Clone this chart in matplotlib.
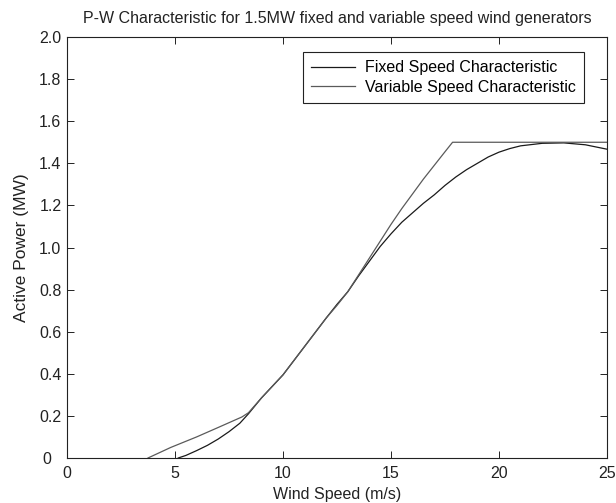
import matplotlib
matplotlib.use('Agg')
import matplotlib.pyplot as plt
from matplotlib.transforms import ScaledTranslation

# Variable speed (pitch regulated, flat at rated power)
var_ws = [3.75, 4.8, 6.0, 7.0, 8.1, 8.4, 9.0, 10.0, 11.0, 12.0, 12.5, 13.0,
          13.5, 14.0, 14.5, 15.0, 15.5, 16.0, 16.5, 17.0, 17.5, 17.85, 25.0]
var_p = [0.0, 0.05, 0.10, 0.145, 0.195, 0.215, 0.285, 0.395, 0.53, 0.665,
         0.725, 0.79, 0.87, 0.95, 1.03, 1.11, 1.185, 1.255, 1.325, 1.39,
         1.455, 1.50, 1.50]

# Fixed speed (stall regulated)
fix_ws = [5.15, 5.5, 6.0, 6.5, 7.0, 7.5, 8.0, 8.4, 9.0, 10.0, 11.0, 12.0,
          12.5, 13.0, 13.5, 14.0, 14.5, 15.0, 15.5, 16.0, 16.5, 17.0, 17.5,
          18.0, 18.5, 19.0, 19.5, 20.0, 20.5, 21.0, 22.0, 23.0, 24.0, 25.0]
fix_p = [0.0, 0.012, 0.035, 0.06, 0.09, 0.125, 0.165, 0.21, 0.285, 0.395,
         0.53, 0.665, 0.73, 0.79, 0.865, 0.935, 1.005, 1.065, 1.12, 1.165,
         1.21, 1.25, 1.295, 1.335, 1.37, 1.40, 1.43, 1.453, 1.47, 1.483,
         1.495, 1.497, 1.488, 1.467]

x_ticks = [0, 5, 10, 15, 20, 25]
y_ticks = [0, 0.2, 0.4, 0.6, 0.8, 1.0, 1.2, 1.4, 1.6, 1.8, 2.0]
y_labels = ['0', '0.2', '0.4', '0.6', '0.8', '1.0', '1.2', '1.4', '1.6', '1.8', '2.0']

plt.rcParams['font.family'] = ['Liberation Sans', 'DejaVu Sans']
plt.rcParams['font.size'] = 11.5

fig = plt.figure(figsize=(6.16, 5.03), dpi=100)
ax = fig.add_axes([0.1088, 0.0895, 0.8766, 0.8369])

ax.plot(fix_ws, fix_p, color='#1a1a1a', lw=0.9, label='Fixed Speed Characteristic')
ax.plot(var_ws, var_p, color='#5a5a5a', lw=0.9, label='Variable Speed Characteristic')

ax.set_xlim(0, 25)
ax.set_ylim(0, 2.0)
ax.set_xticks(x_ticks)
ax.set_yticks(y_ticks)
ax.set_yticklabels(y_labels)
ax.tick_params(direction='in', top=True, right=True, length=5, width=0.7,
               labelsize=11.5, colors='#222222')
ax.tick_params(axis='x', pad=6)
ax.tick_params(axis='y', pad=4)
for s in ax.spines.values():
    s.set_linewidth(0.8)
    s.set_color('#222222')

# the "0" on the y axis sits further left in the original
zero = ax.get_yticklabels()[0]
zero.set_transform(zero.get_transform() + ScaledTranslation(-0.1, 0, fig.dpi_scale_trans))

ax.set_xlabel('Wind Speed (m/s)', fontsize=11.5, color='#222222', labelpad=4)
ax.set_ylabel('Active Power (MW)', fontsize=12.5, color='#222222', labelpad=7)
ax.set_title('P-W Characteristic for 1.5MW fixed and variable speed wind generators',
             fontsize=11.5, color='#222222', pad=10)

leg = ax.legend(loc='upper right', bbox_to_anchor=(0.957, 0.964), borderaxespad=0,
                fancybox=False, edgecolor='#222222', framealpha=1, fontsize=11.5,
                handlelength=2.8, handletextpad=0.6, borderpad=0.5, labelspacing=0.3)
leg.get_frame().set_linewidth(0.8)

fig.savefig('out.png', dpi=100)
